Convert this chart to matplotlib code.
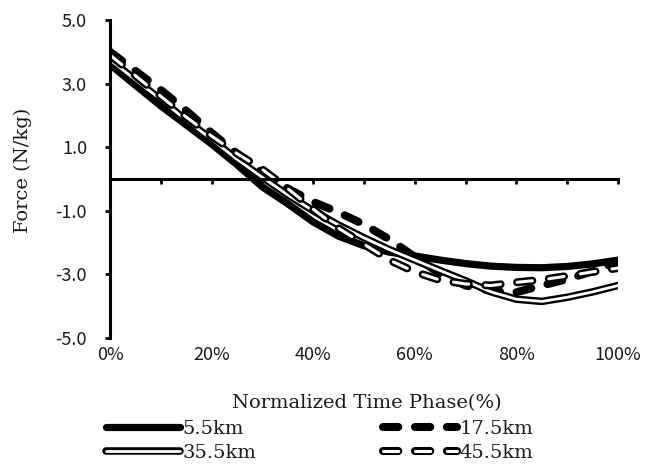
import numpy as np
import matplotlib.pyplot as plt
from matplotlib.legend_handler import HandlerTuple

plt.rcParams['axes.unicode_minus'] = False
plt.rcParams['lines.scale_dashes'] = False

# normalized time phase (%) and force (N/kg)
phase = [0, 5, 10, 15, 20, 25, 30, 35, 40, 45, 50, 55, 60, 65, 70, 75, 80, 85, 90, 95, 100]
f_5_5 = [3.60, 2.95, 2.30, 1.70, 1.10, 0.45, -0.25, -0.78, -1.35, -1.80, -2.10, -2.30, -2.42,
         -2.55, -2.66, -2.74, -2.78, -2.79, -2.75, -2.67, -2.55]
f_17_5 = [4.00, 3.40, 2.80, 2.15, 1.45, 0.80, 0.20, -0.30, -0.72, -1.05, -1.43, -1.90, -2.45,
          -2.98, -3.35, -3.52, -3.56, -3.35, -3.15, -2.90, -2.60]
f_35_5 = [3.75, 3.12, 2.50, 1.85, 1.25, 0.62, 0.05, -0.50, -1.00, -1.45, -1.85, -2.22, -2.55,
          -2.88, -3.20, -3.55, -3.78, -3.85, -3.72, -3.55, -3.35]
f_45_5 = [3.90, 3.25, 2.60, 1.95, 1.35, 0.80, 0.30, -0.30, -0.95, -1.55, -2.05, -2.55, -2.92,
          -3.18, -3.30, -3.35, -3.25, -3.17, -3.05, -2.92, -2.80]
labels = ['5.5km', '17.5km', '35.5km', '45.5km']

yticks = [5, 3, 1, -1, -3, -5]
xticks_minor = [0, 10, 20, 30, 40, 50, 60, 70, 80, 90, 100]
xlabels_at = [0, 20, 40, 60, 80, 100]

txt = '#1a1a1a'
tick_font = ['Noto Sans CJK JP', 'DejaVu Sans']
serif = 'DejaVu Serif'
dash = (0, (11, 12))

fig = plt.figure(figsize=(6.56, 4.75), dpi=100)
ax = fig.add_axes([110 / 656, 1 - 338 / 475, 508 / 656, 318 / 475])

kw = dict(solid_capstyle='round', dash_capstyle='round', solid_joinstyle='round')
l1, = ax.plot(phase, f_5_5, color='black', lw=5.2, **kw)
l2, = ax.plot(phase, f_17_5, color='black', lw=5.8, linestyle=dash, **kw)
l3a, = ax.plot(phase, f_35_5, color='black', lw=5.4, **kw)
l3b, = ax.plot(phase, f_35_5, color='white', lw=2.0, **kw)
l4a, = ax.plot(phase, f_45_5, color='black', lw=5.8, linestyle=dash, **kw)
l4b, = ax.plot(phase, f_45_5, color='white', lw=2.2, linestyle=dash, **kw)

ax.set_xlim(0, 100)
ax.set_ylim(-5, 5)

for s in ['top', 'right']:
    ax.spines[s].set_visible(False)
ax.spines['bottom'].set_position(('data', 0))
ax.spines['bottom'].set_linewidth(2.2)
ax.spines['left'].set_linewidth(2.2)

ax.set_yticks(yticks)
ax.set_yticklabels(['%.1f' % v for v in yticks], fontfamily=tick_font, fontsize=13, color=txt)
ax.tick_params(axis='y', direction='out', length=3.5, width=2, pad=13)
ax.set_xticks(xticks_minor)
ax.set_xticklabels([])
ax.tick_params(axis='x', direction='out', length=3.5, width=2)

for v in xlabels_at:
    ax.text(v, -0.055, '%d%%' % v, transform=ax.get_xaxis_transform(), ha='center', va='center',
            fontfamily=tick_font, fontsize=13, color=txt)

fig.text(23 / 656, 1 - 170 / 475, 'Force (N/kg)', rotation=90, ha='center', va='center',
         fontfamily=serif, fontsize=14, color=txt)
fig.text(367 / 656, 1 - 403 / 475, 'Normalized Time Phase(%)', ha='center', va='center',
         fontfamily=serif, fontsize=14, color=txt)

handles = [l1, (l3a, l3b), l2, (l4a, l4b)]
names = [labels[0], labels[2], labels[1], labels[3]]
fig.legend(handles, names, ncol=2, loc='upper left', bbox_to_anchor=(106 / 656, 1 - 420 / 475),
           frameon=False, borderpad=0, borderaxespad=0, handlelength=3.8, handletextpad=0.15,
           columnspacing=6.5, labelspacing=0.3,
           handler_map={tuple: HandlerTuple(ndivide=1)},
           prop={'family': serif, 'size': 14})
for t in fig.legends[0].get_texts():
    t.set_color(txt)

fig.savefig('out.png', dpi=100)
